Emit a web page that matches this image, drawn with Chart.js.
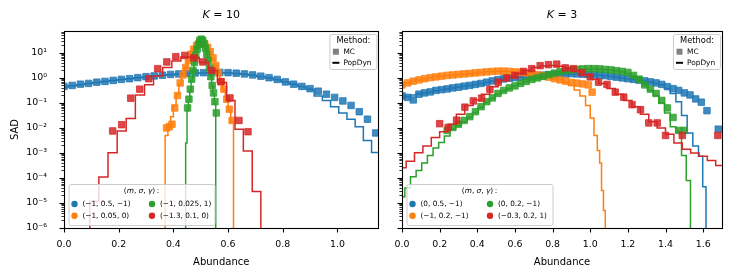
<!DOCTYPE html>
<html>
<head>
<meta charset="utf-8">
<script src="https://cdn.jsdelivr.net/npm/chart.js@4.4.1/dist/chart.umd.min.js"></script>
<style>
  html, body { margin: 0; padding: 0; background: #fff; }
  #wrap { position: relative; width: 734px; height: 278px; }
  #c1 { position: absolute; left: 0; top: 0; }
  #c2 { position: absolute; left: 384px; top: 0; }
</style>
</head>
<body>
<div id="wrap">
  <canvas id="c1" width="384" height="278"></canvas>
  <canvas id="c2" width="350" height="278"></canvas>
</div>
<script>
'use strict';

/* ---------- data: values are log10(SAD) ---------- */

// K = 10 panel
const K10_BLUE_MC_X = [0.00,0.03,0.06,0.09,0.12,0.15,0.18,0.21,0.24,0.27,0.30,0.33,0.36,0.39,0.42,0.45,0.48,0.51,0.54,0.57,0.60,0.63,0.66,0.69,0.72,0.75,0.78,0.81,0.84,0.87,0.90,0.93,0.96,0.99,1.02,1.05,1.08,1.11,1.14];
const K10_BLUE_MC   = [-0.34,-0.30,-0.25,-0.22,-0.17,-0.14,-0.10,-0.06,-0.03,0.01,0.05,0.08,0.11,0.14,0.16,0.18,0.20,0.21,0.22,0.22,0.21,0.19,0.16,0.12,0.07,0.01,-0.06,-0.16,-0.25,-0.34,-0.43,-0.53,-0.65,-0.78,-0.92,-1.10,-1.35,-1.65,-2.20];
const K10_BLUE_PD_X = [0.00,0.03,0.06,0.09,0.12,0.15,0.18,0.21,0.24,0.27,0.30,0.33,0.36,0.39,0.42,0.45,0.48,0.51,0.54,0.57,0.60,0.63,0.66,0.69,0.72,0.75,0.78,0.81,0.84,0.87,0.90,0.93,0.96,0.99,1.02,1.05,1.08,1.11,1.14,1.17];
const K10_BLUE_PD   = [-0.36,-0.31,-0.27,-0.22,-0.18,-0.14,-0.10,-0.06,-0.03,0.01,0.04,0.08,0.11,0.13,0.16,0.18,0.19,0.20,0.21,0.21,0.20,0.18,0.15,0.11,0.06,0.00,-0.07,-0.16,-0.25,-0.34,-0.45,-0.72,-0.90,-1.15,-1.40,-1.65,-1.95,-2.50,-2.98,-2.98];

const K10_ORANGE_MC_X = [0.375,0.385,0.395,0.405,0.415,0.425,0.435,0.445,0.455,0.465,0.475,0.485,0.495,0.505,0.515,0.525,0.535,0.545,0.555,0.565,0.575,0.585,0.595,0.605,0.615];
const K10_ORANGE_MC   = [-2.00,-1.95,-1.85,-1.20,-0.70,-0.20,0.12,0.42,0.70,0.95,1.15,1.30,1.40,1.42,1.35,1.22,1.05,0.80,0.50,0.20,-0.15,-0.45,-0.85,-1.25,-1.70];
const K10_ORANGE_PD_X = [0.365,0.375,0.385,0.395,0.405,0.415,0.425,0.435,0.445,0.455,0.465,0.475,0.485,0.495,0.505,0.515,0.525,0.535,0.545,0.555,0.565,0.575,0.585,0.595,0.605,0.615,0.625];
const K10_ORANGE_PD   = [-9,-2.30,-1.95,-1.55,-1.10,-0.65,-0.25,0.10,0.42,0.70,0.95,1.15,1.30,1.38,1.40,1.33,1.20,1.02,0.78,0.50,0.18,-0.17,-0.50,-0.90,-1.30,-1.75,-9];

const K10_GREEN_MC_X = [0.452,0.457,0.462,0.467,0.472,0.477,0.482,0.487,0.492,0.497,0.502,0.507,0.512,0.517,0.522,0.527,0.532,0.537,0.542,0.547,0.552,0.557];
const K10_GREEN_MC   = [-1.20,-0.85,-0.45,-0.05,0.30,0.62,0.90,1.15,1.35,1.50,1.55,1.50,1.38,1.20,0.95,0.70,0.40,0.05,-0.30,-0.60,-0.95,-1.40];
const K10_GREEN_PD_X = [0.4425,0.4475,0.4525,0.4575,0.4625,0.4675,0.4725,0.4775,0.4825,0.4875,0.4925,0.4975,0.5025,0.5075,0.5125,0.5175,0.5225,0.5275,0.5325,0.5375,0.5425,0.5475,0.5525,0.5575];
const K10_GREEN_PD   = [-9,-2.60,-1.30,-0.90,-0.50,-0.10,0.27,0.60,0.88,1.13,1.33,1.48,1.53,1.48,1.36,1.18,0.94,0.68,0.38,0.04,-0.32,-0.65,-1.05,-9];

const K10_RED_MC_X = [0.178,0.211,0.244,0.277,0.310,0.343,0.376,0.409,0.442,0.475,0.508,0.541,0.574,0.607,0.640,0.673];
const K10_RED_MC   = [-2.12,-1.87,-0.81,-0.45,-0.03,0.37,0.64,0.85,0.90,0.80,0.64,0.30,-0.15,-0.80,-1.70,-2.15];
const K10_RED_PD_X = [0.078,0.111,0.144,0.178,0.211,0.244,0.278,0.311,0.344,0.378,0.411,0.444,0.478,0.511,0.544,0.578,0.611,0.640,0.672,0.705,0.735];
const K10_RED_PD   = [-9,-4.94,-3.96,-2.99,-2.12,-1.62,-0.68,-0.27,0.08,0.42,0.68,0.84,0.82,0.62,0.30,-0.18,-0.90,-2.05,-2.92,-4.54,-9];

// K = 3 panel
const K3_BLUE_MC_X = [0.00,0.03,0.06,0.09,0.12,0.15,0.18,0.21,0.24,0.27,0.30,0.33,0.36,0.39,0.42,0.45,0.48,0.51,0.54,0.57,0.60,0.63,0.66,0.69,0.72,0.75,0.78,0.81,0.84,0.87,0.90,0.93,0.96,0.99,1.02,1.05,1.08,1.11,1.14,1.17,1.20,1.23,1.26,1.29,1.32,1.35,1.38,1.41,1.44,1.47,1.50,1.53,1.56,1.59,1.62,1.68];
const K3_BLUE_MC   = [-0.72,-0.78,-0.88,-0.65,-0.60,-0.56,-0.50,-0.47,-0.44,-0.40,-0.37,-0.33,-0.30,-0.26,-0.22,-0.17,-0.12,-0.07,-0.04,-0.01,0.01,0.03,0.05,0.07,0.09,0.11,0.13,0.14,0.15,0.16,0.17,0.16,0.15,0.14,0.13,0.11,0.09,0.06,0.03,0.00,-0.03,-0.06,-0.09,-0.12,-0.16,-0.20,-0.26,-0.35,-0.43,-0.50,-0.60,-0.68,-0.84,-0.97,-1.31,-2.05];
const K3_BLUE_PD_X = [0.00,0.03,0.06,0.09,0.12,0.15,0.18,0.21,0.24,0.27,0.30,0.33,0.36,0.39,0.42,0.45,0.48,0.51,0.54,0.57,0.60,0.63,0.66,0.69,0.72,0.75,0.78,0.81,0.84,0.87,0.90,0.93,0.96,0.99,1.02,1.05,1.08,1.11,1.14,1.17,1.20,1.23,1.26,1.29,1.32,1.35,1.38,1.41,1.44,1.47,1.50,1.53,1.56,1.59,1.605,1.625];
const K3_BLUE_PD   = [-0.75,-0.74,-0.68,-0.64,-0.60,-0.56,-0.51,-0.47,-0.44,-0.40,-0.37,-0.33,-0.30,-0.26,-0.22,-0.17,-0.12,-0.08,-0.04,-0.01,0.01,0.03,0.05,0.07,0.09,0.11,0.12,0.14,0.15,0.16,0.16,0.16,0.15,0.14,0.12,0.11,0.09,0.06,0.03,0.00,-0.03,-0.06,-0.09,-0.12,-0.16,-0.21,-0.27,-0.42,-0.62,-0.95,-1.50,-2.20,-2.72,-3.13,-4.35,-9];

const K3_ORANGE_MC_X = [0.00,0.03,0.06,0.09,0.12,0.15,0.18,0.21,0.24,0.27,0.30,0.33,0.36,0.39,0.42,0.45,0.48,0.51,0.54,0.57,0.60,0.63,0.66,0.69,0.72,0.75,0.78,0.81,0.84,0.87,0.90,0.93,0.96,0.99,1.01];
const K3_ORANGE_MC   = [-0.28,-0.20,-0.13,-0.08,-0.03,0.01,0.04,0.07,0.10,0.12,0.14,0.16,0.18,0.20,0.22,0.24,0.26,0.27,0.27,0.26,0.24,0.22,0.20,0.17,0.13,0.08,0.03,-0.03,-0.08,-0.13,-0.18,-0.21,-0.24,-0.28,-0.57];
const K3_ORANGE_PD_X = [0.00,0.03,0.06,0.09,0.12,0.15,0.18,0.21,0.24,0.27,0.30,0.33,0.36,0.39,0.42,0.45,0.48,0.51,0.54,0.57,0.60,0.63,0.66,0.69,0.72,0.75,0.78,0.81,0.84,0.87,0.90,0.93,0.96,0.99,1.01,1.03,1.045,1.055,1.065,1.075,1.085];
const K3_ORANGE_PD   = [-0.28,-0.20,-0.13,-0.08,-0.03,0.01,0.04,0.07,0.10,0.12,0.14,0.16,0.18,0.20,0.22,0.24,0.26,0.27,0.27,0.26,0.24,0.22,0.20,0.17,0.13,0.08,0.03,-0.03,-0.08,-0.18,-0.30,-0.48,-0.72,-1.10,-1.60,-2.30,-2.90,-3.40,-4.50,-5.30,-9];

const K3_GREEN_MC_X = [0.24,0.27,0.30,0.33,0.36,0.39,0.42,0.45,0.48,0.51,0.54,0.57,0.60,0.63,0.66,0.69,0.72,0.75,0.78,0.81,0.84,0.87,0.90,0.93,0.96,0.99,1.02,1.05,1.08,1.11,1.14,1.17,1.20,1.23,1.26,1.29,1.32,1.35,1.38,1.41,1.44,1.47,1.50];
const K3_GREEN_MC   = [-2.10,-1.98,-1.85,-1.70,-1.55,-1.35,-1.15,-0.95,-0.80,-0.62,-0.50,-0.40,-0.32,-0.22,-0.14,-0.06,0.00,0.06,0.13,0.19,0.25,0.29,0.32,0.34,0.36,0.37,0.37,0.36,0.34,0.32,0.29,0.26,0.22,0.10,-0.05,-0.28,-0.45,-0.62,-0.90,-1.20,-1.58,-2.10,-2.10];
const K3_GREEN_PD_X = [0.00,0.03,0.06,0.09,0.12,0.15,0.18,0.21,0.24,0.27,0.30,0.33,0.36,0.39,0.42,0.45,0.48,0.51,0.54,0.57,0.60,0.63,0.66,0.69,0.72,0.75,0.78,0.81,0.84,0.87,0.90,0.93,0.96,0.99,1.02,1.05,1.08,1.11,1.14,1.17,1.20,1.23,1.26,1.29,1.32,1.35,1.38,1.41,1.44,1.47,1.50,1.52,1.545];
const K3_GREEN_PD   = [-4.75,-4.40,-3.95,-3.70,-3.40,-3.10,-2.80,-2.58,-2.32,-2.05,-1.90,-1.75,-1.58,-1.38,-1.18,-0.98,-0.82,-0.65,-0.52,-0.42,-0.33,-0.23,-0.15,-0.07,0.00,0.06,0.12,0.18,0.24,0.28,0.31,0.33,0.35,0.36,0.36,0.35,0.33,0.31,0.28,0.24,0.18,0.08,-0.08,-0.30,-0.50,-0.70,-1.00,-1.40,-1.95,-2.15,-3.10,-4.10,-9];

const K3_RED_MC_X = [0.200,0.245,0.290,0.334,0.379,0.423,0.467,0.511,0.556,0.600,0.645,0.689,0.734,0.778,0.822,0.867,0.911,0.956,1.000,1.044,1.089,1.133,1.178,1.222,1.267,1.311,1.356,1.400,1.489,1.678];
const K3_RED_MC   = [-1.83,-1.98,-1.69,-1.17,-0.92,-0.81,-0.46,-0.17,0.00,0.10,0.26,0.37,0.49,0.53,0.55,0.40,0.37,0.21,0.04,-0.17,-0.26,-0.57,-0.77,-1.07,-1.27,-1.80,-1.80,-2.30,-2.30,-2.30];
const K3_RED_PD_X = [0.000,0.044,0.089,0.133,0.178,0.222,0.267,0.311,0.356,0.400,0.444,0.489,0.533,0.578,0.622,0.667,0.711,0.756,0.800,0.844,0.889,0.933,0.978,1.022,1.067,1.111,1.156,1.200,1.244,1.289,1.333,1.378,1.422,1.467,1.511,1.556,1.600,1.644,1.689,1.720];
const K3_RED_PD   = [-3.59,-3.33,-2.99,-2.72,-2.38,-2.15,-1.85,-1.45,-1.10,-0.88,-0.65,-0.35,-0.10,0.05,0.18,0.30,0.42,0.48,0.50,0.47,0.38,0.27,0.12,-0.05,-0.22,-0.42,-0.65,-0.90,-1.15,-1.45,-1.75,-2.00,-2.25,-2.60,-2.85,-3.00,-3.13,-3.30,-3.50,-3.75];

const PARAMS_K10 = ['(\u22121, 0.5, \u22121)', '(\u22121, 0.05, 0)', '(\u22121, 0.025, 1)', '(\u22121.3, 0.1, 0)'];
const PARAMS_K3  = ['(0, 0.5, \u22121)', '(\u22121, 0.2, \u22121)', '(0, 0.2, \u22121)', '(\u22120.3, 0.2, 1)'];
const PALETTE = ['#1f77b4', '#ff7f0e', '#2ca02c', '#d62728'];
const METHODS = ['MC', 'PopDyn'];

const Y_MIN = 1e-6;
const Y_MAX = 75;
const FONT = '"DejaVu Sans", sans-serif';

/* ---------- helpers ---------- */

function rgba(hex, a) {
  const n = parseInt(hex.slice(1), 16);
  return `rgba(${(n >> 16) & 255},${(n >> 8) & 255},${n & 255},${a})`;
}

function toPoints(xs, logs) {
  return xs.map((x, i) => ({ x, y: Math.pow(10, logs[i]) }));
}

function seriesSets(color, mcX, mc, pdX, pd) {
  return [
    {
      type: 'scatter', data: toPoints(mcX, mc), clip: 0,
      pointStyle: 'rect', pointRadius: 4.6,
      backgroundColor: rgba(color, 0.85), borderColor: rgba(color, 0.75), borderWidth: 1,
    },
    {
      type: 'line', data: toPoints(pdX, pd), clip: 0, stepped: 'middle',
      borderColor: color, borderWidth: 1.5, pointRadius: 0, fill: false,
    },
  ];
}

function withOrder(sets) {
  // later entries are drawn on top
  return sets.map((d, i) => Object.assign(d, { order: sets.length - i }));
}

const SUP = { '-': '\u207B', '0': '\u2070', '1': '\u00B9', '2': '\u00B2', '3': '\u00B3', '4': '\u2074', '5': '\u2075', '6': '\u2076', '7': '\u2077', '8': '\u2078', '9': '\u2079' };

function isPow10(v) {
  const e = Math.round(Math.log10(v));
  return Math.abs(v / Math.pow(10, e) - 1) < 1e-6;
}

function drawRich(ctx, parts, x, y, size, align) {
  let total = 0;
  parts.forEach(([t, it]) => { ctx.font = (it ? 'italic ' : '') + size + 'px ' + FONT; total += ctx.measureText(t).width; });
  let cx = align === 'center' ? x - total / 2 : x;
  ctx.textAlign = 'left';
  ctx.textBaseline = 'middle';
  parts.forEach(([t, it]) => {
    ctx.font = (it ? 'italic ' : '') + size + 'px ' + FONT;
    ctx.fillText(t, cx, y);
    cx += ctx.measureText(t).width;
  });
}

function legendBox(ctx, x, y, w, h) {
  ctx.beginPath();
  ctx.roundRect(x + 0.5, y + 0.5, w, h, 2);
  ctx.fillStyle = 'rgba(255,255,255,0.8)';
  ctx.fill();
  ctx.strokeStyle = '#cccccc';
  ctx.lineWidth = 1;
  ctx.stroke();
}

/* ---------- decorations: frame, ticks, title, legends ---------- */

const decor = {
  id: 'decor',
  afterDraw(chart, args, opts) {
    const { ctx, chartArea: a, scales: { x, y } } = chart;
    ctx.save();
    ctx.strokeStyle = '#000';

    // tick marks
    ctx.lineWidth = 1.1;
    x.ticks.forEach(t => {
      const px = Math.round(x.getPixelForValue(t.value)) + 0.5;
      ctx.beginPath(); ctx.moveTo(px, a.bottom); ctx.lineTo(px, a.bottom + 4.5); ctx.stroke();
    });
    for (let e = -6; e <= 1; e++) {
      for (let k = 1; k <= 9; k++) {
        const v = k * Math.pow(10, e);
        if (v > Y_MAX) break;
        const py = Math.round(y.getPixelForValue(v)) + 0.5;
        ctx.lineWidth = k === 1 ? 1.1 : 0.8;
        ctx.beginPath(); ctx.moveTo(a.left, py); ctx.lineTo(a.left - (k === 1 ? 4.5 : 2.6), py); ctx.stroke();
      }
    }

    // frame
    ctx.lineWidth = 1.1;
    ctx.strokeRect(Math.round(a.left) + 0.5, Math.round(a.top) + 0.5, Math.round(a.right - a.left), Math.round(a.bottom - a.top));

    ctx.fillStyle = '#000';
    // panel title
    drawRich(ctx, [['K', true], [' = ' + opts.k, false]], (a.left + a.right) / 2, 15, 11, 'center');

    // method legend
    const mw = 47, mh = 35, mx = a.right - 49, my = a.top + 3;
    legendBox(ctx, mx, my, mw, mh);
    ctx.fillStyle = '#000';
    ctx.font = '8.3px ' + FONT; ctx.textAlign = 'center'; ctx.textBaseline = 'middle';
    ctx.fillText('Method:', mx + mw / 2 + 0.5, my + 6.5);
    ctx.fillStyle = '#808080';
    ctx.fillRect(mx + 3.5, my + 14.7, 6, 6);
    ctx.strokeStyle = '#000'; ctx.lineWidth = 2;
    ctx.beginPath(); ctx.moveTo(mx + 3, my + 28.8); ctx.lineTo(mx + 10, my + 28.8); ctx.stroke();
    ctx.fillStyle = '#000';
    ctx.font = '7.4px ' + FONT; ctx.textAlign = 'left';
    ctx.fillText(METHODS[0], mx + 14, my + 17.8);
    ctx.fillText(METHODS[1], mx + 14, my + 28.8);

    // parameter legend
    const pw = 146, ph = 41, px0 = a.left + 4.5, py0 = a.bottom - 44;
    legendBox(ctx, px0, py0, pw, ph);
    ctx.fillStyle = '#000';
    drawRich(ctx, [['(', false], ['m', true], [', ', false], ['\u03C3', true], [', ', false], ['\u03B3', true], [')\u2009:', false]], px0 + pw / 2, py0 + 7.2, 7.4, 'center');
    const cols = [6, 83.5], textOff = 8, rows = [20, 31.8];
    opts.params.forEach((label, i) => {
      const cx = px0 + cols[Math.floor(i / 2)];
      const cy = py0 + rows[i % 2];
      ctx.fillStyle = PALETTE[i];
      ctx.beginPath(); ctx.arc(cx, cy, 3.2, 0, Math.PI * 2); ctx.fill();
      ctx.fillStyle = '#000';
      ctx.font = '7.3px ' + FONT; ctx.textAlign = 'left'; ctx.textBaseline = 'middle';
      ctx.fillText(label, cx + textOff, cy);
    });
    ctx.restore();
  },
};

/* ---------- charts ---------- */

function makePanel(canvasId, cfg) {
  return new Chart(document.getElementById(canvasId), {
    type: 'scatter',
    data: { datasets: cfg.datasets },
    options: {
      responsive: false,
      animation: false,
      events: [],
      layout: { padding: { top: 31, right: cfg.padRight, bottom: 0, left: 0 } },
      plugins: {
        legend: { display: false },
        tooltip: { enabled: false },
        decor: { k: cfg.k, params: cfg.params },
      },
      scales: {
        x: {
          type: 'linear', min: 0, max: cfg.xMax,
          afterFit: s => { s.height = 50; },
          grid: { display: false }, border: { display: false },
          ticks: {
            stepSize: 0.2, includeBounds: false, padding: 3, maxRotation: 0,
            color: '#000', font: { family: FONT, size: 9.4 },
            callback: v => v.toFixed(1),
          },
          title: { display: true, text: 'Abundance', color: '#000', font: { family: FONT, size: 10 }, padding: { top: 0, bottom: 10 } },
        },
        y: {
          type: 'logarithmic', min: Y_MIN, max: Y_MAX,
          afterFit: s => { s.width = cfg.yWidth; },
          grid: { display: false }, border: { display: false },
          ticks: {
            autoSkip: false, padding: 9,
            color: '#000', font: { family: FONT, size: 9.4 },
            callback: v => {
              if (!cfg.yLabels || !isPow10(v)) return '';
              const e = String(Math.round(Math.log10(v)));
              return '10' + e.split('').map(c => SUP[c]).join('');
            },
          },
          title: { display: cfg.yLabels, text: 'SAD', color: '#000', font: { family: FONT, size: 10 }, padding: { top: 9, bottom: 0 } },
        },
      },
    },
    plugins: [decor],
  });
}

makePanel('c1', {
  k: '10', params: PARAMS_K10, xMax: 1.15, yWidth: 64, padRight: 1, yLabels: true,
  datasets: withOrder([
    ...seriesSets(PALETTE[0], K10_BLUE_MC_X, K10_BLUE_MC, K10_BLUE_PD_X, K10_BLUE_PD),
    ...seriesSets(PALETTE[1], K10_ORANGE_MC_X, K10_ORANGE_MC, K10_ORANGE_PD_X, K10_ORANGE_PD),
    ...seriesSets(PALETTE[2], K10_GREEN_MC_X, K10_GREEN_MC, K10_GREEN_PD_X, K10_GREEN_PD),
    ...seriesSets(PALETTE[3], K10_RED_MC_X, K10_RED_MC, K10_RED_PD_X, K10_RED_PD),
  ]),
});

makePanel('c2', {
  k: '3', params: PARAMS_K3, xMax: 1.7, yWidth: 18, padRight: 12, yLabels: false,
  datasets: withOrder([
    ...seriesSets(PALETTE[0], K3_BLUE_MC_X, K3_BLUE_MC, K3_BLUE_PD_X, K3_BLUE_PD),
    ...seriesSets(PALETTE[1], K3_ORANGE_MC_X, K3_ORANGE_MC, K3_ORANGE_PD_X, K3_ORANGE_PD),
    ...seriesSets(PALETTE[2], K3_GREEN_MC_X, K3_GREEN_MC, K3_GREEN_PD_X, K3_GREEN_PD),
    ...seriesSets(PALETTE[3], K3_RED_MC_X, K3_RED_MC, K3_RED_PD_X, K3_RED_PD),
  ]),
});
</script>
</body>
</html>
